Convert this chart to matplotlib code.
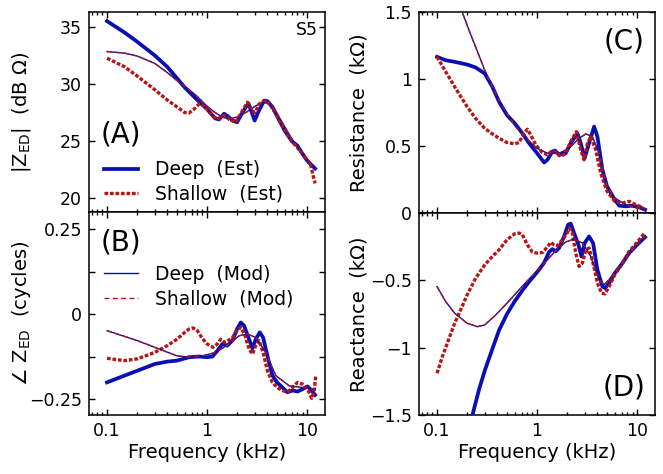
"""S5 ear-canal impedance at the eardrum: estimated (Est) vs model (Mod) curves,
deep and shallow probe insertion. Magnitude/phase on the left, R/X on the right.

Output: out.png
"""

import matplotlib
matplotlib.use("Agg")
import matplotlib.pyplot as plt

BLUE = "#0a0fb4"
RED = "#b81414"

# ---- (A) |Z_ED| in dB ohm ----
a_deep_est_f = [0.1, 0.15, 0.2, 0.3, 0.4, 0.5, 0.598, 0.7, 0.8, 1.0, 1.2, 1.318,
                1.479, 1.596, 1.806, 1.995, 2.254, 2.59, 2.80, 2.99, 3.31, 3.72,
                4.01, 4.50, 5.01, 5.98, 7.03, 8.02, 8.98, 10.0, 12.02]
a_deep_est = [35.5, 34.5, 33.7, 32.5, 31.5, 30.5, 29.7, 29.1, 28.6, 27.8, 27.0, 26.9,
              27.4, 27.2, 26.8, 26.65, 27.5, 28.3, 27.5, 26.8, 27.7, 28.55,
              28.5, 28.0, 27.2, 25.9, 25.0, 24.6, 23.9, 23.3, 22.6]

a_shallow_est_f = [0.1, 0.15, 0.2, 0.3, 0.4, 0.5, 0.598, 0.661, 0.741, 0.832, 0.933,
                   1.088, 1.268, 1.402, 1.514, 1.660, 1.935, 2.170, 2.53, 2.80, 3.02,
                   3.31, 3.86, 4.33, 5.01, 5.98, 7.03, 8.98, 10.88, 11.48, 12.02]
a_shallow_est = [32.26, 31.5, 30.7, 29.5, 28.6, 28.0, 27.5, 27.47, 27.8, 28.25, 28.1,
                 27.4, 26.9, 27.2, 27.25, 26.9, 26.65, 27.4, 28.4, 27.7, 27.5,
                 28.25, 28.6, 28.1, 27.2, 26.0, 25.0, 23.9, 22.9, 22.0, 21.3]

a_mod_f = [0.1, 0.15, 0.2, 0.3, 0.4, 0.5, 0.661, 0.8, 1.0, 1.202, 1.424, 1.660,
           1.995, 2.435, 3.07, 3.72, 4.17, 5.01, 7.03, 10.0, 12.02]
a_deep_mod = [32.84, 32.7, 32.45, 31.8, 31.0, 30.3, 29.5, 28.9, 28.05, 27.5, 27.1, 26.95,
              27.1, 27.5, 28.1, 28.4, 28.25, 27.4, 25.2, 23.3, 22.6]
a_shallow_mod = list(a_deep_mod)

# ---- (B) angle of Z_ED in cycles ----
b_deep_est_f = [0.1, 0.15, 0.2, 0.3, 0.4, 0.5, 0.661, 0.832, 1.0, 1.131, 1.268, 1.424,
                1.596, 1.792, 1.995, 2.170, 2.343, 2.59, 2.84, 3.07, 3.36, 3.63,
                4.01, 4.50, 5.01, 5.66, 6.35, 7.14, 8.02, 8.98, 10.08, 11.13, 12.02]
b_deep_est = [-0.2, -0.18, -0.166, -0.146, -0.139, -0.136, -0.126, -0.124, -0.126,
              -0.124, -0.107, -0.087, -0.092, -0.077, -0.043, -0.024, -0.033, -0.068,
              -0.100, -0.073, -0.053, -0.068, -0.122, -0.18, -0.2, -0.215, -0.229,
              -0.224, -0.227, -0.22, -0.212, -0.224, -0.237]

b_shallow_est_f = [0.1, 0.122, 0.15, 0.2, 0.3, 0.4, 0.5, 0.598, 0.661, 0.724, 0.80,
                   0.898, 1.0, 1.148, 1.268, 1.370, 1.479, 1.596, 1.792, 1.995, 2.170,
                   2.398, 2.63, 2.84, 3.07, 3.31, 3.63, 4.01, 4.50, 5.01, 5.66, 6.35,
                   7.14, 8.02, 8.98, 10.08, 11.13, 11.75, 12.2]
b_shallow_est = [-0.129, -0.133, -0.136, -0.131, -0.112, -0.092, -0.073, -0.053, -0.043,
                 -0.040, -0.048, -0.071, -0.087, -0.097, -0.087, -0.073, -0.082, -0.079,
                 -0.068, -0.048, -0.038, -0.063, -0.102, -0.117, -0.092, -0.077, -0.112,
                 -0.166, -0.2, -0.215, -0.224, -0.229, -0.215, -0.2, -0.205, -0.22,
                 -0.247, -0.229, -0.18]

b_mod_f = [0.1, 0.2, 0.3, 0.5, 0.661, 0.898, 1.221, 1.660, 2.089, 2.53, 3.07, 3.86,
           4.86, 6.61, 8.98, 12.02]
b_deep_mod = [-0.048, -0.077, -0.097, -0.122, -0.126, -0.122, -0.112, -0.087, -0.063,
              -0.058, -0.068, -0.112, -0.18, -0.21, -0.215, -0.22]
b_shallow_mod = list(b_deep_mod)

# ---- (C) resistance in kilohm ----
c_deep_est_f = [0.1, 0.122, 0.15, 0.2, 0.243, 0.3, 0.357, 0.417, 0.5, 0.598, 0.713,
                0.832, 1.0, 1.175, 1.268, 1.424, 1.514, 1.660, 1.935, 2.170, 2.53,
                2.73, 2.99, 3.31, 3.72, 4.01, 4.50, 5.01, 5.98, 6.61, 7.71, 8.98,
                10.47, 12.02]
c_deep_est = [1.165, 1.14, 1.128, 1.108, 1.086, 1.041, 0.942, 0.83, 0.731, 0.669, 0.595,
              0.521, 0.446, 0.377, 0.397, 0.459, 0.466, 0.434, 0.446, 0.521, 0.595,
              0.521, 0.409, 0.521, 0.645, 0.570, 0.322, 0.198, 0.099, 0.055, 0.050,
              0.055, 0.045, 0.025]

c_shallow_est_f = [0.1, 0.122, 0.15, 0.2, 0.243, 0.3, 0.357, 0.417, 0.5, 0.598, 0.661,
                   0.741, 0.80, 0.864, 0.970, 1.131, 1.268, 1.424, 1.537, 1.723, 1.935,
                   2.170, 2.473, 2.73, 2.95, 3.19, 3.44, 3.86, 4.33, 5.01, 5.98, 7.14,
                   8.32, 9.68, 11.13, 12.02]
c_shallow_est = [1.165, 1.054, 0.942, 0.793, 0.706, 0.632, 0.59, 0.558, 0.526, 0.516,
                 0.526, 0.595, 0.625, 0.583, 0.508, 0.451, 0.434, 0.466, 0.451, 0.421,
                 0.446, 0.533, 0.607, 0.471, 0.397, 0.521, 0.570, 0.471, 0.297, 0.161,
                 0.087, 0.074, 0.087, 0.062, 0.045, 0.012]

c_mod_f = [0.1, 0.13, 0.176, 0.209, 0.3, 0.357, 0.417, 0.5, 0.613, 0.771, 1.0, 1.268,
           1.660, 2.089, 2.63, 3.07, 3.57, 4.17, 4.86, 5.98, 7.71, 10.0, 12.02]
c_deep_mod = [1.84, 1.68, 1.512, 1.363, 1.066, 0.942, 0.843, 0.744, 0.645, 0.558, 0.483,
              0.446, 0.446, 0.483, 0.558, 0.59, 0.570, 0.446, 0.223, 0.112, 0.062,
              0.037, 0.025]
c_shallow_mod = list(c_deep_mod)

# ---- (D) reactance in kilohm ----
d_deep_est_f = [0.1, 0.2, 0.226, 0.263, 0.3, 0.357, 0.417, 0.5, 0.598, 0.713, 0.832,
                1.0, 1.175, 1.318, 1.424, 1.537, 1.660, 1.862, 2.042, 2.170, 2.343,
                2.59, 2.78, 2.99, 3.31, 3.63, 4.01, 4.50, 4.78, 5.25, 5.98, 7.14,
                8.32, 10.0, 12.02]
d_deep_est = [-3.0, -1.64, -1.5, -1.31, -1.17, -1.01, -0.87, -0.75, -0.655, -0.575,
              -0.51, -0.44, -0.37, -0.29, -0.268, -0.285, -0.26, -0.174, -0.087,
              -0.079, -0.149, -0.236, -0.323, -0.223, -0.174, -0.223, -0.422, -0.546,
              -0.558, -0.521, -0.447, -0.372, -0.298, -0.236, -0.179]

d_shallow_est_f = [0.1, 0.113, 0.132, 0.15, 0.172, 0.2, 0.243, 0.3, 0.357, 0.417, 0.5,
                   0.598, 0.661, 0.713, 0.80, 0.898, 1.0, 1.131, 1.268, 1.370, 1.479,
                   1.596, 1.792, 1.995, 2.121, 2.254, 2.435, 2.63, 2.84, 3.07, 3.31,
                   3.63, 4.01, 4.43, 4.78, 5.25, 5.98, 7.14, 8.32, 10.0, 12.02]
d_shallow_est = [-1.19, -1.067, -0.93, -0.819, -0.72, -0.608, -0.484, -0.385, -0.323,
                 -0.273, -0.199, -0.154, -0.149, -0.161, -0.236, -0.29, -0.298, -0.293,
                 -0.253, -0.218, -0.236, -0.243, -0.199, -0.149, -0.112, -0.149,
                 -0.298, -0.397, -0.372, -0.273, -0.26, -0.372, -0.521, -0.596, -0.60,
                 -0.546, -0.459, -0.372, -0.285, -0.218, -0.144]

d_mod_f = [0.1, 0.122, 0.15, 0.2, 0.253, 0.3, 0.386, 0.5, 0.661, 0.832, 1.0, 1.221,
           1.537, 1.935, 2.343, 2.84, 3.44, 4.17, 4.67, 5.25, 6.61, 8.32, 10.0, 12.02]
d_deep_mod = [-0.546, -0.658, -0.744, -0.819, -0.844, -0.831, -0.757, -0.67, -0.57,
              -0.49, -0.43, -0.36, -0.28, -0.215, -0.194, -0.223, -0.323, -0.496,
              -0.533, -0.496, -0.397, -0.298, -0.236, -0.174]
d_shallow_mod = list(d_deep_mod)

XLIM = (0.066, 15.1)
FS_TICK = 12.5
FS_LABEL = 14
EST_DOTS = (0, (1.1, 0.55))
MOD_DASH = (0, (3.5, 2.5))


def draw(ax, de, se, dm, sm):
    """de/se/dm/sm are (freq, values) pairs."""
    ax.plot(*de, color=BLUE, lw=2.7, zorder=3)
    ax.plot(*se, color=RED, lw=2.4, ls=EST_DOTS, zorder=4)
    ax.plot(*dm, color=BLUE, lw=1.0, zorder=5)
    ax.plot(*sm, color=RED, lw=1.0, ls=MOD_DASH, zorder=6)


def style_axes(ax, show_x):
    ax.set_xscale("log")
    ax.set_xlim(*XLIM)
    ax.set_xticks([0.1, 1, 10])
    ax.set_xticklabels(["0.1", "1", "10"])
    ax.tick_params(which="both", direction="in", top=True, right=True, width=1.0,
                   labelsize=FS_TICK, labelbottom=show_x)
    ax.tick_params(which="major", length=4.4, pad=5)
    ax.tick_params(which="minor", length=2.2)
    for sp in ax.spines.values():
        sp.set_linewidth(1.1)
    if show_x:
        ax.set_xlabel("Frequency (kHz)", fontsize=FS_LABEL)
        ax.xaxis.set_label_coords(0.5, -0.14)


def legend(ax, handles, labels, **kw):
    ax.legend(handles, labels, frameon=False, fontsize=13.5, handlelength=1.8,
              handletextpad=0.9, labelspacing=0.3, borderpad=0, borderaxespad=0, **kw)


def main():
    plt.rcParams["font.family"] = ["DejaVu Sans"]
    plt.rcParams["mathtext.default"] = "regular"

    fig = plt.figure(figsize=(6.63, 4.74), dpi=100)
    W, H = 663.0, 474.0
    ax_a = fig.add_axes([89 / W, (H - 212) / H, 236 / W, 200 / H])
    ax_b = fig.add_axes([89 / W, (H - 415) / H, 236 / W, 203 / H])
    ax_c = fig.add_axes([419 / W, (H - 213) / H, 236 / W, 201 / H])
    ax_d = fig.add_axes([419 / W, (H - 415) / H, 236 / W, 202 / H])

    # (A)
    draw(ax_a, (a_deep_est_f, a_deep_est), (a_shallow_est_f, a_shallow_est),
         (a_mod_f, a_deep_mod), (a_mod_f, a_shallow_mod))
    style_axes(ax_a, False)
    ax_a.set_ylim(18.8, 36.3)
    ax_a.set_yticks([20, 25, 30, 35])
    ax_a.set_ylabel("$|Z_{ED}|$  (dB Ω)", fontsize=FS_LABEL)
    ax_a.yaxis.set_label_coords(-0.236, 0.5)
    ax_a.text(0.136, 0.39, "(A)", transform=ax_a.transAxes, fontsize=20,
              ha="center", va="center")
    ax_a.text(0.97, 0.955, "S5", transform=ax_a.transAxes, fontsize=12.5,
              ha="right", va="top")
    h1, = ax_a.plot([], [], color=BLUE, lw=2.7)
    h2, = ax_a.plot([], [], color=RED, lw=2.4, ls=EST_DOTS)
    legend(ax_a, [h1, h2], ["Deep  (Est)", "Shallow  (Est)"], loc="lower left",
           bbox_to_anchor=(0.064, 0.04))

    # (B)
    draw(ax_b, (b_deep_est_f, b_deep_est), (b_shallow_est_f, b_shallow_est),
         (b_mod_f, b_deep_mod), (b_mod_f, b_shallow_mod))
    style_axes(ax_b, True)
    ax_b.set_ylim(-0.296, 0.301)
    ax_b.set_yticks([-0.25, -0.125, 0, 0.125, 0.25])
    ax_b.set_yticklabels(["\u22120.25", "", "0", "", "0.25"])
    ax_b.set_ylabel("\u2220 $Z_{ED}$  (cycles)", fontsize=FS_LABEL)
    ax_b.yaxis.set_label_coords(-0.236, 0.5)
    ax_b.text(0.134, 0.852, "(B)", transform=ax_b.transAxes, fontsize=20,
              ha="center", va="center")
    h3, = ax_b.plot([], [], color=BLUE, lw=1.0)
    h4, = ax_b.plot([], [], color=RED, lw=1.0, ls=MOD_DASH)
    legend(ax_b, [h3, h4], ["Deep  (Mod)", "Shallow  (Mod)"], loc="upper left",
           bbox_to_anchor=(0.064, 0.74))

    # (C)
    draw(ax_c, (c_deep_est_f, c_deep_est), (c_shallow_est_f, c_shallow_est),
         (c_mod_f, c_deep_mod), (c_mod_f, c_shallow_mod))
    style_axes(ax_c, False)
    ax_c.set_ylim(0, 1.5)
    ax_c.set_yticks([0, 0.5, 1, 1.5])
    ax_c.set_yticklabels(["0", "0.5", "1", "1.5"])
    ax_c.set_ylabel("Resistance  (kΩ)", fontsize=FS_LABEL)
    ax_c.yaxis.set_label_coords(-0.214, 0.5)
    ax_c.text(0.869, 0.852, "(C)", transform=ax_c.transAxes, fontsize=20,
              ha="center", va="center")

    # (D)
    draw(ax_d, (d_deep_est_f, d_deep_est), (d_shallow_est_f, d_shallow_est),
         (d_mod_f, d_deep_mod), (d_mod_f, d_shallow_mod))
    style_axes(ax_d, True)
    ax_d.set_ylim(-1.5, 0)
    ax_d.set_yticks([-1.5, -1, -0.5, 0])
    ax_d.set_yticklabels(["\u22121.5", "\u22121", "\u22120.5", ""])
    ax_d.set_ylabel("Reactance  (kΩ)", fontsize=FS_LABEL)
    ax_d.yaxis.set_label_coords(-0.214, 0.5)
    ax_d.text(0.869, 0.134, "(D)", transform=ax_d.transAxes, fontsize=20,
              ha="center", va="center")

    fig.savefig("out.png", dpi=100)


if __name__ == "__main__":
    main()
